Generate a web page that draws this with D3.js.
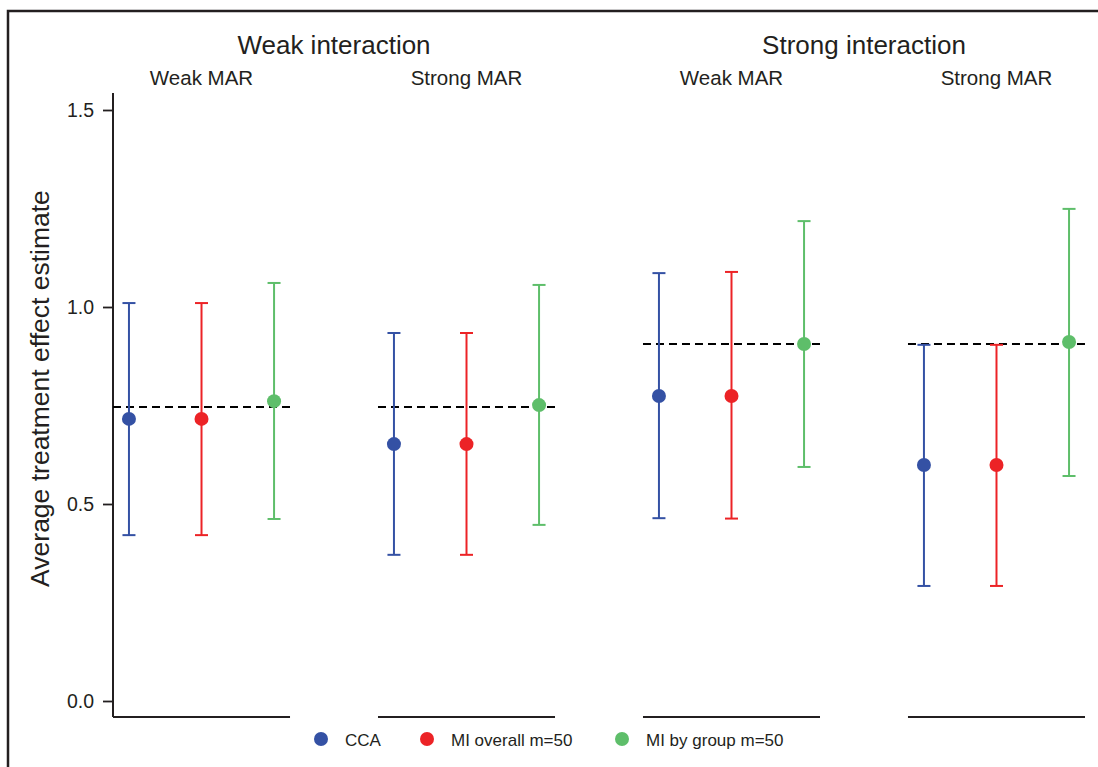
<!DOCTYPE html>
<html>
<head>
<meta charset="utf-8">
<script src="https://cdn.jsdelivr.net/npm/d3@7"></script>
<style>
  html, body { margin: 0; padding: 0; background: #fff; }
  svg { display: block; font-family: "Liberation Sans", Arial, Helvetica, sans-serif; }
</style>
</head>
<body>
<svg id="chart" width="1098" height="767"></svg>
<script>
// ---- Data ----
const interactions = ["Weak interaction", "Strong interaction"];
const marLevels = ["Weak MAR", "Strong MAR"];
const panels = ["WI-WM", "WI-SM", "SI-WM", "SI-SM"];
const methods = ["CCA", "MI overall m=50", "MI by group m=50"];
const colors = ["#3451a4", "#ec2326", "#5ebe6a"];

// point estimates per panel
const ccaEst = [0.716, 0.652, 0.774, 0.599];
const miOverallEst = [0.716, 0.652, 0.774, 0.599];
const miGroupEst = [0.761, 0.751, 0.906, 0.911];
// lower limits
const ccaLow = [0.421, 0.371, 0.464, 0.292];
const miOverallLow = [0.421, 0.371, 0.463, 0.292];
const miGroupLow = [0.462, 0.447, 0.594, 0.571];
// upper limits
const ccaHigh = [1.010, 0.934, 1.086, 0.904];
const miOverallHigh = [1.010, 0.934, 1.089, 0.904];
const miGroupHigh = [1.061, 1.056, 1.218, 1.249];
// true effect (dashed reference)
const trueEffect = [0.746, 0.746, 0.906, 0.906];
const yTicks = [0.0, 0.5, 1.0, 1.5];

const est = [ccaEst, miOverallEst, miGroupEst];
const low = [ccaLow, miOverallLow, miGroupLow];
const high = [ccaHigh, miOverallHigh, miGroupHigh];

const rows = [];
panels.forEach((p, pi) => methods.forEach((m, mi) => rows.push({
  panel: p, pi, method: m, mi, est: est[mi][pi], lo: low[mi][pi], hi: high[mi][pi]
})));

// ---- Layout ----
const svg = d3.select("#chart");
const ink = "#231f20";

// outer frame (top + left)
svg.append("path")
  .attr("d", "M8,767 L8,11 L1098,11")
  .attr("fill", "none").attr("stroke", ink).attr("stroke-width", 2.5);

const y = d3.scaleLinear().domain([0, 1.5]).range([701, 110]);
const xPanel = d3.scaleBand().domain(panels).range([113, 1085])
  .paddingInner(0.332).paddingOuter(0);
const xIn = d3.scalePoint().domain(methods).range([0, xPanel.bandwidth()]).padding(0.22);

// y axis
const yAxis = d3.axisLeft(y).tickValues(yTicks).tickFormat(d3.format(".1f"))
  .tickSize(10).tickPadding(9);
const gy = svg.append("g").attr("transform", `translate(${xPanel(panels[0])},0)`).call(yAxis);
gy.attr("font-size", null).attr("font-family", null);
gy.select(".domain").remove();
gy.selectAll(".tick line").attr("stroke", ink).attr("stroke-width", 1.8);
gy.selectAll(".tick text").attr("fill", ink).style("font-size", "19.5px");
const axisBottom = y(0) + 16, axisTop = y(1.5) - 17;
gy.append("line").attr("x1", 0).attr("x2", 0).attr("y1", axisTop).attr("y2", axisBottom)
  .attr("stroke", ink).attr("stroke-width", 2);

// y-axis title
svg.append("text")
  .attr("transform", `translate(49,${(y(0) + y(1.5)) / 2 - 17}) rotate(-90)`)
  .attr("text-anchor", "middle").attr("fill", ink)
  .style("font-size", "26.5px")
  .text("Average treatment effect estimate");

// panels
const gp = svg.selectAll("g.panel").data(panels).join("g")
  .attr("class", "panel")
  .attr("transform", d => `translate(${xPanel(d)},0)`);

// baseline per panel
gp.append("line").attr("x1", 0).attr("x2", xPanel.bandwidth())
  .attr("y1", axisBottom).attr("y2", axisBottom)
  .attr("stroke", ink).attr("stroke-width", 2);

// subtitles
gp.append("text").attr("x", xPanel.bandwidth() / 2).attr("y", 85)
  .attr("text-anchor", "middle").attr("fill", ink).style("font-size", "20.5px")
  .text((d, i) => marLevels[i % 2]);

// dashed true value line
gp.append("line").attr("x1", 0).attr("x2", xPanel.bandwidth())
  .attr("y1", (d, i) => y(trueEffect[i])).attr("y2", (d, i) => y(trueEffect[i]))
  .attr("stroke", "#000").attr("stroke-width", 2).attr("stroke-dasharray", "8,5");

// interaction titles
interactions.forEach((t, k) => {
  const x0 = xPanel(panels[2 * k]);
  const x1 = xPanel(panels[2 * k + 1]) + xPanel.bandwidth();
  svg.append("text").attr("x", (x0 + x1) / 2).attr("y", 54)
    .attr("text-anchor", "middle").attr("fill", ink).style("font-size", "26px")
    .text(t);
});

// error bars
const capW = 6.5;
const gbar = svg.selectAll("g.bar").data(rows).join("g")
  .attr("class", "bar")
  .attr("transform", d => `translate(${xPanel(d.panel) + xIn(d.method)},0)`);
gbar.append("line").attr("x1", 0).attr("x2", 0)
  .attr("y1", d => y(d.lo)).attr("y2", d => y(d.hi))
  .attr("stroke", d => colors[d.mi]).attr("stroke-width", 2);
gbar.append("line").attr("x1", -capW).attr("x2", capW)
  .attr("y1", d => y(d.hi)).attr("y2", d => y(d.hi))
  .attr("stroke", d => colors[d.mi]).attr("stroke-width", 2);
gbar.append("line").attr("x1", -capW).attr("x2", capW)
  .attr("y1", d => y(d.lo)).attr("y2", d => y(d.lo))
  .attr("stroke", d => colors[d.mi]).attr("stroke-width", 2);
gbar.append("circle").attr("cx", 0).attr("cy", d => y(d.est)).attr("r", 7)
  .attr("fill", d => colors[d.mi]);

// legend
const legendX = [321, 427, 622];
const lg = svg.selectAll("g.legend").data(methods).join("g")
  .attr("class", "legend")
  .attr("transform", (d, i) => `translate(${legendX[i]},739)`);
lg.append("circle").attr("r", 7).attr("fill", (d, i) => colors[i]);
lg.append("text").attr("x", 24).attr("y", 6.5).attr("fill", ink)
  .style("font-size", "17px").text(d => d);
</script>
</body>
</html>
